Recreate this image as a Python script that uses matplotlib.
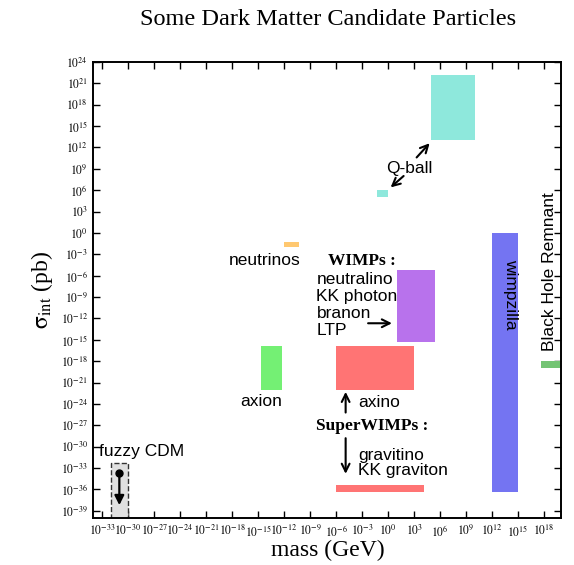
import matplotlib
matplotlib.use("Agg")
import matplotlib.pyplot as plt
import numpy as np
from matplotlib.patches import Rectangle
from matplotlib.ticker import FixedLocator, FuncFormatter

plt.rcParams['font.family'] = ['Liberation Serif', 'DejaVu Serif']
plt.rcParams['mathtext.fontset'] = 'stix'

# candidate regions, log10 of mass (GeV) and sigma_int (pb)
names = ['Q-ball big', 'Q-ball small', 'neutrinos', 'wimpzilla', 'WIMPs',
         'axion', 'axino', 'gravitino', 'BH remnant']
mass_lo = [5.0, -1.3, -12.0, 12.0, 1.0, -14.7, -6.0, -6.0, 17.7]
mass_hi = [10.0, 0.0, -10.3, 15.0, 5.4, -12.2, 3.0, 4.1, 20.5]
sig_lo = [13.0, 5.0, -2.0, -36.3, -15.3, -22.0, -22.0, -36.3, -19.0]
sig_hi = [22.2, 6.0, -1.2, 0.0, -5.2, -15.9, -15.9, -35.4, -18.0]
colors = ['#8ee8dc', '#8ee8dc', '#ffc870', '#7474f2', '#b872ec',
          '#74f074', '#ff7474', '#ff7474', '#74c474']

# fuzzy CDM: dashed box and upper-limit arrow
fuzzy_mass = [-32.0, -30.0]
fuzzy_sig = [-40.0, -32.3]
fuzzy_point = (-31.0, -33.7)
fuzzy_arrow_end = -38.2

xticks_exp = np.arange(-33, 19, 3)
yticks_exp = np.arange(-39, 25, 3)

fig = plt.figure(figsize=(5.74, 5.65), dpi=100)
ax = fig.add_axes([0.1626, 0.0832, 0.8154, 0.8071])
ax.set_xscale('log')
ax.set_yscale('log')
ax.set_xlim(1e-34, 1e20)
ax.set_ylim(1e-40, 1e24)

for i in range(len(names)):
    x0, x1 = 10.0**mass_lo[i], 10.0**mass_hi[i]
    y0, y1 = 10.0**sig_lo[i], 10.0**sig_hi[i]
    ax.add_patch(Rectangle((x0, y0), x1 - x0, y1 - y0, facecolor=colors[i],
                           edgecolor='none', clip_on=True, zorder=2))

fx0, fx1 = 10.0**fuzzy_mass[0], 10.0**fuzzy_mass[1]
fy0, fy1 = 10.0**fuzzy_sig[0], 10.0**fuzzy_sig[1]
ax.add_patch(Rectangle((fx0, fy0), fx1 - fx0, fy1 - fy0, facecolor='#e0e0e0',
                       edgecolor='#333333', linestyle='--', lw=1.0, zorder=2))
ax.plot([10**fuzzy_point[0]], [10**fuzzy_point[1]], 'o', color='black', ms=5, zorder=4)
ax.annotate('', xy=(10**fuzzy_point[0], 10**fuzzy_arrow_end),
            xytext=(10**fuzzy_point[0], 10**fuzzy_point[1]),
            arrowprops=dict(arrowstyle='-|>', color='black', lw=1.6,
                            mutation_scale=14, shrinkA=0, shrinkB=0), zorder=4)

sans = ['Liberation Sans', 'DejaVu Sans']
fs = 12.5

def L(mx, sy):
    return (10.0**mx, 10.0**sy)

def arrow(a, b, style='->'):
    ax.annotate('', xy=L(*b), xytext=L(*a),
                arrowprops=dict(arrowstyle=style, color='black', lw=1.5,
                                mutation_scale=14, shrinkA=0, shrinkB=0))

# labels
ax.text(*L(2.4, 9.1), 'Q-ball', family=sans, fontsize=fs, ha='center', va='center')
arrow((3.3, 10.6), (4.8, 12.6))
arrow((1.8, 8.0), (0.3, 6.4))

ax.text(*L(-14.2, -3.8), 'neutrinos', family=sans, fontsize=fs, ha='center', va='center')
ax.text(*L(-6.97, -3.9), 'WIMPs :', fontsize=fs, weight='bold', ha='left', va='center')
for t, yy in zip(['neutralino', 'KK photon', 'branon', 'LTP'],
                 [-6.46, -8.94, -11.27, -13.7]):
    ax.text(*L(-8.26, yy), t, family=sans, fontsize=fs, ha='left', va='center')
arrow((-2.3, -12.67), (0.45, -12.67))

ax.text(*L(-14.62, -23.7), 'axion', family=sans, fontsize=fs, ha='center', va='center')
ax.text(*L(-3.47, -23.8), 'axino', family=sans, fontsize=fs, ha='left', va='center')
arrow((-4.89, -25.2), (-4.89, -22.3))
ax.text(*L(-8.34, -27.05), 'SuperWIMPs :', fontsize=fs, weight='bold', ha='left', va='center')
arrow((-4.89, -28.8), (-4.89, -33.8))
ax.text(*L(-3.47, -31.16), 'gravitino', family=sans, fontsize=fs, ha='left', va='center')
ax.text(*L(-3.47, -33.36), 'KK graviton', family=sans, fontsize=fs, ha='left', va='center')

ax.text(*L(14.1, -8.6), 'wimpzilla', family=sans, fontsize=fs, ha='center', va='center',
        rotation=270)
ax.text(*L(18.6, -16.6), 'Black Hole Remnant', family=sans, fontsize=fs, ha='center',
        va='bottom', rotation=90)
ax.text(*L(-33.3, -30.7), 'fuzzy CDM', family=sans, fontsize=fs, ha='left', va='center')

# axes styling
ax.xaxis.set_major_locator(FixedLocator(10.0**xticks_exp))
ax.yaxis.set_major_locator(FixedLocator(10.0**yticks_exp))
ax.xaxis.set_minor_locator(FixedLocator([]))
ax.yaxis.set_minor_locator(FixedLocator([]))
fmt = FuncFormatter(lambda v, p: r'$10^{%d}$' % int(round(np.log10(v))))
ax.xaxis.set_major_formatter(fmt)
ax.yaxis.set_major_formatter(fmt)
ax.tick_params(which='both', direction='in', top=True, right=True, length=5,
               width=1.0, labelsize=8.3, pad=4)
for s in ax.spines.values():
    s.set_linewidth(1.4)

ax.set_xlabel('mass (GeV)', fontsize=17, labelpad=1)
ax.set_ylabel(r'$\mathrm{\sigma}_{\rm int}$ (pb)', fontsize=17, labelpad=4)
fig.text(0.571, 0.966, 'Some Dark Matter Candidate Particles', fontsize=17.5,
         ha='center', va='center')

fig.savefig('out.png', dpi=100)
